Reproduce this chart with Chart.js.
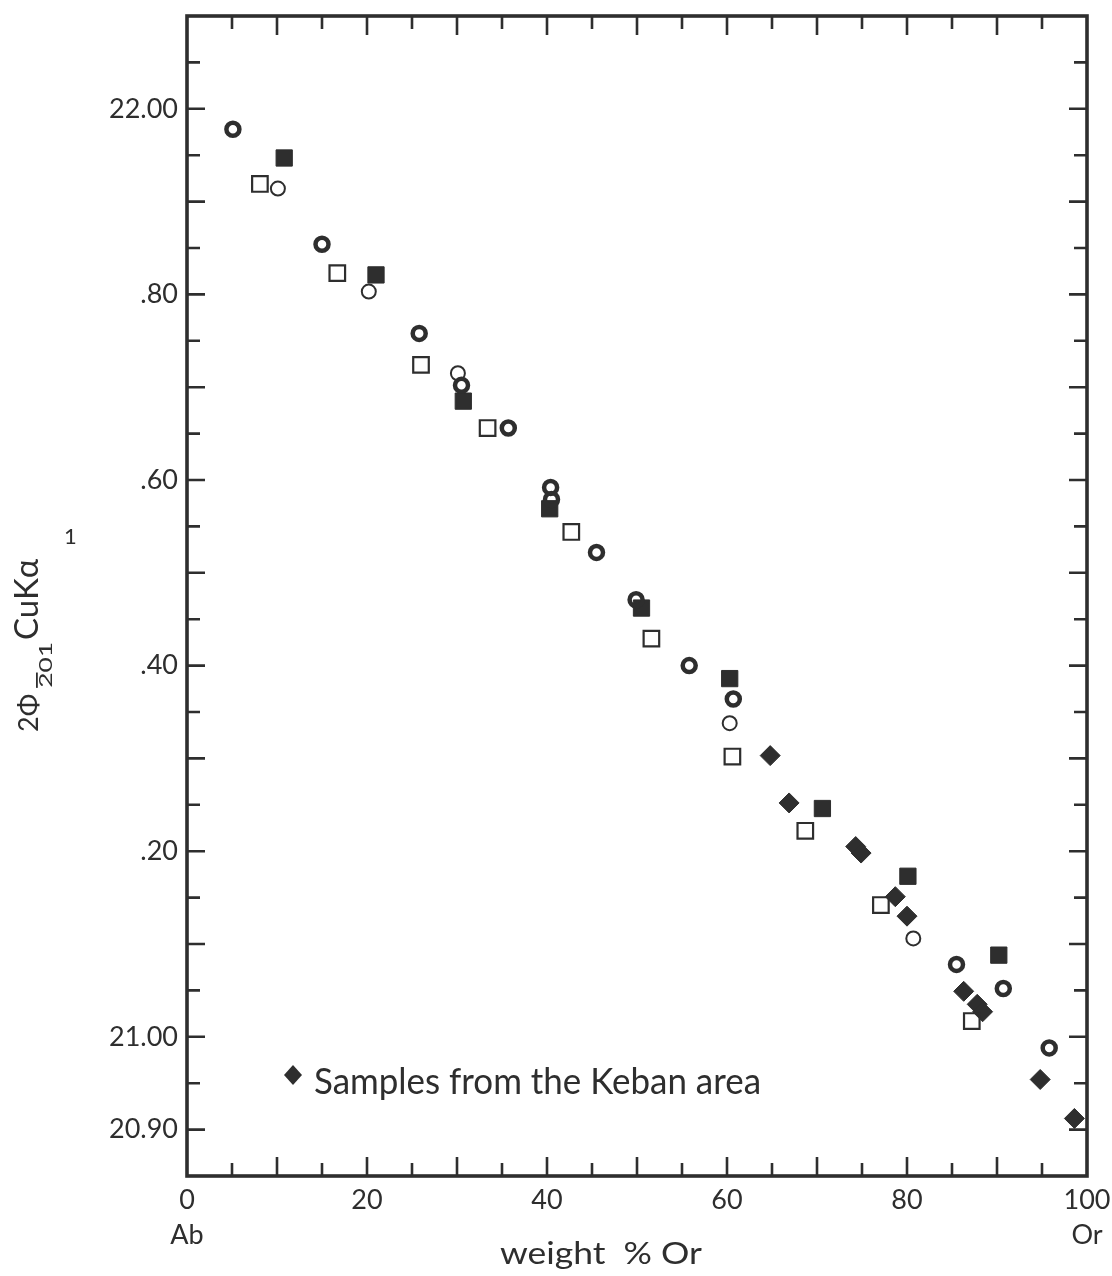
<!DOCTYPE html>
<html>
<head>
<meta charset="utf-8">
<title>2Θ(201) CuKα1 vs weight % Or</title>
<script src="https://cdn.jsdelivr.net/npm/chart.js"></script>
<style>
  html, body { margin: 0; padding: 0; background: #ffffff; }
  canvas { display: block; }
</style>
</head>
<body>
<canvas id="grafico" width="1112" height="1276"></canvas>
<script>
// circulos gruesos
var boldCircleX = [5.1, 15.0, 25.8, 30.5, 35.7, 40.4, 40.5, 45.5, 49.9, 55.8, 60.7, 85.5, 90.7, 95.8];
var boldCircleY = [21.978, 21.854, 21.758, 21.702, 21.656, 21.592, 21.579, 21.522, 21.471, 21.400, 21.364, 21.078, 21.052, 20.988];

// circulos finos
var thinCircleX = [10.1, 20.2, 30.1, 60.3, 80.7];
var thinCircleY = [21.914, 21.803, 21.715, 21.338, 21.106];

// cuadrados rellenos
var filledSquareX = [10.8, 21.0, 30.7, 40.3, 50.5, 60.3, 70.6, 80.1, 90.2];
var filledSquareY = [21.947, 21.821, 21.685, 21.569, 21.462, 21.386, 21.246, 21.173, 21.088];

// cuadrados vacios
var openSquareX = [8.1, 16.7, 26.0, 33.4, 42.7, 51.6, 60.6, 68.7, 77.1, 87.2];
var openSquareY = [21.919, 21.823, 21.724, 21.656, 21.544, 21.429, 21.302, 21.222, 21.142, 21.017];

// muestras de Keban (rombos)
var kebanX = [64.8, 66.9, 74.3, 74.9, 78.7, 80.0, 86.3, 87.8, 88.4, 94.8, 98.6];
var kebanY = [21.303, 21.252, 21.205, 21.198, 21.151, 21.130, 21.049, 21.035, 21.027, 20.954, 20.912];

// etiquetas de los ejes
var xTickValues = [0, 20, 40, 60, 80, 100];
var xTickLabels = [['0', 'Ab'], '20', '40', '60', '80', ['100', 'Or']];
var yTickValues = [20.90, 21.00, 21.20, 21.40, 21.60, 21.80, 22.00];
var yTickLabels = ['20.90', '21.00', '.20', '.40', '.60', '.80', '22.00'];

var legendText = 'Samples from the Keban area';
var xTitle = 'weight  % Or';

var ink = '#2e2e2e';
var fontFam = 'Lato, "Noto Sans", sans-serif';

function pares(xs, ys) {
    return xs.map(function (x, i) { return { x: x, y: ys[i] }; });
}

function buscarEtiqueta(valores, etiquetas, v, tol) {
    for (var i = 0; i < valores.length; i++) {
        if (Math.abs(valores[i] - v) < tol) return etiquetas[i];
    }
    return '';
}

// marcas hacia dentro en los cuatro lados, marco y textos
var marcoPlugin = {
    id: 'marco',
    beforeDatasetsDraw: function (chart) {
        var ctx = chart.ctx;
        var a = chart.chartArea;
        var sx = chart.scales.x, sy = chart.scales.y;
        ctx.save();
        ctx.strokeStyle = ink;
        ctx.lineWidth = 2.6;
        sx.ticks.forEach(function (t) {
            var px = sx.getPixelForValue(t.value);
            if (px < a.left + 3 || px > a.right - 3) return;
            var len = (Math.round(t.value) % 10 === 0) ? 19 : 13;
            ctx.beginPath();
            ctx.moveTo(px, a.bottom); ctx.lineTo(px, a.bottom - len);
            ctx.moveTo(px, a.top); ctx.lineTo(px, a.top + len);
            ctx.stroke();
        });
        sy.ticks.forEach(function (t) {
            var py = sy.getPixelForValue(t.value);
            if (py < a.top + 3 || py > a.bottom - 3) return;
            var len = (Math.round(t.value * 100) % 10 === 0) ? 18 : 13;
            ctx.beginPath();
            ctx.moveTo(a.left, py); ctx.lineTo(a.left + len, py);
            ctx.moveTo(a.right, py); ctx.lineTo(a.right - len, py);
            ctx.stroke();
        });
        ctx.lineWidth = 3.6;
        ctx.strokeRect(a.left, a.top, a.right - a.left, a.bottom - a.top);
        ctx.restore();
    },
    afterDraw: function (chart) {
        var ctx = chart.ctx;
        var a = chart.chartArea;
        ctx.save();
        ctx.fillStyle = ink;

        // leyenda
        var lx = a.left + 106, ly = a.bottom - 101;
        ctx.beginPath();
        ctx.moveTo(lx, ly - 10); ctx.lineTo(lx + 9, ly);
        ctx.lineTo(lx, ly + 10); ctx.lineTo(lx - 9, ly);
        ctx.closePath(); ctx.fill();
        ctx.font = '37px ' + fontFam;
        ctx.textBaseline = 'alphabetic';
        var w = ctx.measureText(legendText).width;
        ctx.save();
        ctx.translate(lx + 21, ly + 19);
        ctx.scale(447 / w, 1);
        ctx.fillText(legendText, 0, 0);
        ctx.restore();

        // titulo eje x
        ctx.font = '30px ' + fontFam;
        w = ctx.measureText(xTitle).width;
        ctx.save();
        ctx.translate(500, 1264);
        ctx.scale(202 / w, 1);
        ctx.fillText(xTitle, 0, 0);
        ctx.restore();

        // titulo eje y (girado)
        ctx.save();
        ctx.translate(38, 732);
        ctx.rotate(-Math.PI / 2);
        ctx.font = '27px ' + fontFam;
        ctx.fillText('2Φ', 0, 0);
        var w1 = ctx.measureText('2Φ').width;
        ctx.font = '18px ' + fontFam;
        var sub = '201';
        var ws = ctx.measureText(sub).width;
        ctx.save();
        ctx.translate(w1 + 6, 14);
        ctx.scale(46 / ws, 1);
        ctx.fillText(sub, 0, 0);
        var w2 = ctx.measureText('2').width;
        ctx.fillRect(0, -16, w2, 1.8);
        ctx.restore();
        ctx.font = '33px ' + fontFam;
        ctx.fillText('CuKα', 92, 0);
        ctx.restore();
        ctx.font = '22px ' + fontFam;
        ctx.fillText('1', 64, 544);

        ctx.restore();
    }
};

var ctx = document.getElementById('grafico').getContext('2d');

var grafico = new Chart(ctx, {
    type: 'scatter',
    data: {
        datasets: [
            {
                label: 'open squares',
                data: pares(openSquareX, openSquareY),
                pointStyle: 'rect', pointRadius: 11, borderWidth: 2.2,
                borderColor: ink, backgroundColor: 'rgba(255,255,255,0)'
            },
            {
                label: 'thin circles',
                data: pares(thinCircleX, thinCircleY),
                pointStyle: 'circle', pointRadius: 7, borderWidth: 2,
                borderColor: ink, backgroundColor: 'rgba(255,255,255,0)'
            },
            {
                label: 'bold circles',
                data: pares(boldCircleX, boldCircleY),
                pointStyle: 'circle', pointRadius: 6.5, borderWidth: 4.5,
                borderColor: ink, backgroundColor: 'rgba(255,255,255,0)'
            },
            {
                label: 'filled squares',
                data: pares(filledSquareX, filledSquareY),
                pointStyle: 'rect', pointRadius: 11.5, borderWidth: 1,
                borderColor: ink, backgroundColor: ink
            },
            {
                label: 'Samples from the Keban area',
                data: pares(kebanX, kebanY),
                pointStyle: 'rectRot', pointRadius: 10, borderWidth: 1,
                borderColor: ink, backgroundColor: ink
            }
        ]
    },
    options: {
        responsive: false,
        animation: false,
        devicePixelRatio: 1,
        layout: { padding: { left: 0, top: 16, right: 25, bottom: 0 } },
        plugins: {
            legend: { display: false },
            tooltip: { enabled: false }
        },
        elements: { point: { hoverRadius: 0 } },
        scales: {
            x: {
                type: 'linear',
                min: 0, max: 100,
                grid: { display: false, drawTicks: false },
                border: { display: false },
                ticks: {
                    stepSize: 5, autoSkip: false, maxRotation: 0, padding: 7,
                    color: ink,
                    font: { family: fontFam, size: 27, lineHeight: 1.3 },
                    callback: function (v) { return buscarEtiqueta(xTickValues, xTickLabels, v, 0.01); }
                },
                afterFit: function (s) { s.height = 100; s.paddingLeft = 0; s.paddingRight = 0; }
            },
            y: {
                type: 'linear',
                min: 20.85, max: 22.10,
                grid: { display: false, drawTicks: false },
                border: { display: false },
                ticks: {
                    stepSize: 0.05, autoSkip: false, padding: 9,
                    color: ink,
                    font: { family: fontFam, size: 27 },
                    callback: function (v) { return buscarEtiqueta(yTickValues, yTickLabels, v, 0.001); }
                },
                afterFit: function (s) { s.width = 187; s.paddingTop = 0; s.paddingBottom = 0; }
            }
        }
    },
    plugins: [marcoPlugin]
});
</script>
</body>
</html>
